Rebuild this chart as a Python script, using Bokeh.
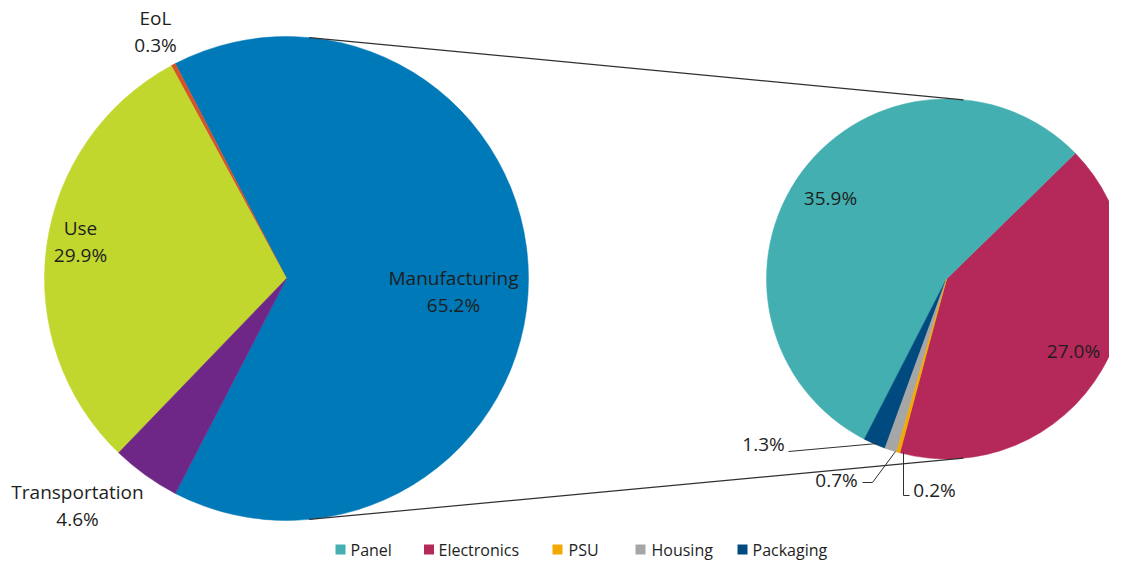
import math
from bokeh.plotting import figure
from bokeh.models import Range1d, ColumnDataSource
from bokeh.core.properties import value
from bokeh.embed import file_html
from bokeh.resources import INLINE

# ---------------- data ----------------
stages = ["Manufacturing", "EoL", "Use", "Transportation"]
stage_shares = [65.2, 0.3, 29.9, 4.6]
stage_colors = ["#0079B8", "#D4532A", "#C2D72E", "#6E2787"]

components = ["Electronics", "Panel", "Packaging", "Housing", "PSU"]
component_shares = [27.0, 35.9, 1.3, 0.7, 0.2]
component_colors = ["#B5285A", "#43AFB0", "#004A80", "#A6A6A6", "#F2A900"]

legend_items = ["Panel", "Electronics", "PSU", "Housing", "Packaging"]

# ---------------- layout (pixel space of the picture) ----------------
FW, FH = 1109, 561
FONT = value("Open Sans")
TXT = "#1e1e1e"

def Y(ypix):
    return FH - ypix

L_CX, L_CY, L_R = 286, 278, 242
R_CX, R_CY, R_R = 946, 278.5, 180
R_START_DEG = -105.0

p = figure(width=FW, height=FH, output_backend="svg", toolbar_location=None,
           x_range=Range1d(0, FW), y_range=Range1d(0, FH), min_border=0,
           background_fill_color="white", border_fill_color="white")
p.axis.visible = False
p.grid.visible = False
p.outline_line_color = None

def wedges(cx, cy, r, shares, colors, start_deg, total):
    starts, ends = [], []
    a = math.radians(start_deg)
    for s in shares:
        span = 2 * math.pi * s / total
        starts.append(a)
        ends.append(a + span)
        a += span
    src = ColumnDataSource(dict(x=[cx] * len(shares), y=[Y(cy)] * len(shares),
                                s=starts, e=ends, c=colors))
    p.wedge(x="x", y="y", radius=r, start_angle="s", end_angle="e",
            direction="anticlock", fill_color="c", line_color="c", line_width=0.5,
            source=src)
    return starts, ends

# primary pie: split slice (Manufacturing) centred on the right side
man_frac = stage_shares[0] / sum(stage_shares)
wedges(L_CX, L_CY, L_R, stage_shares, stage_colors, -180 * man_frac, sum(stage_shares))
# secondary pie
wedges(R_CX, R_CY, R_R, component_shares, component_colors, R_START_DEG, sum(component_shares))

# connector lines: external common tangents of the two circles
d = R_CX - L_CX
alpha = math.acos((L_R - R_R) / d)
for sgn in (1, -1):
    a = sgn * alpha
    x0 = L_CX + L_R * math.cos(a)
    y0 = Y(L_CY) + L_R * math.sin(a)
    x1 = R_CX + R_R * math.cos(a)
    y1 = Y(R_CY) + R_R * math.sin(a)
    p.line([x0, x1], [y0, y1], line_color="#303030", line_width=1.2)

# ---------------- labels ----------------
def label(xp, yp, txt, align="center"):
    p.text(x=[xp], y=[Y(yp)], text=[txt], text_font=FONT, text_font_size="19px",
           text_color=TXT, text_align=align, text_baseline="middle",
           text_line_height=1.05)

stage_label_pos = {"EoL": (155, 31), "Use": (80, 241),
                   "Transportation": (77, 505), "Manufacturing": (453, 291)}
for name, v in zip(stages, stage_shares):
    xp, yp = stage_label_pos[name]
    label(xp, yp, f"{name}\n{v:.1f}%")

comp_label_pos = {"Panel": (830, 197), "Electronics": (1073, 350),
                  "Packaging": (763, 443), "Housing": (836, 479), "PSU": (934, 489)}
for name, v in zip(components, component_shares):
    xp, yp = comp_label_pos[name]
    label(xp, yp, f"{v:.1f}%")

# leader lines for the small slices
leaders = [
    [(788, 451), (877, 443)],
    [(862, 482), (872, 482), (895, 451)],
    [(903, 452), (903, 495), (909, 495)],
]
for pts in leaders:
    p.line([q[0] for q in pts], [Y(q[1]) for q in pts], line_color="#303030", line_width=1)

# ---------------- legend ----------------
legend_sq_x = [340, 428.5, 557, 640, 742]
legend_txt_x = [350, 438, 568, 651, 752]
legend_y = 549
color_of = dict(zip(components, component_colors))
p.rect(x=legend_sq_x, y=[Y(legend_y)] * 5, width=10, height=10,
       fill_color=[color_of[n] for n in legend_items], line_color=None)
p.text(x=legend_txt_x, y=[Y(legend_y)] * 5, text=legend_items, text_font=FONT,
       text_font_size="16px", text_color=TXT, text_align="left", text_baseline="middle")

open("out.html", "w").write(file_html(p, INLINE))
